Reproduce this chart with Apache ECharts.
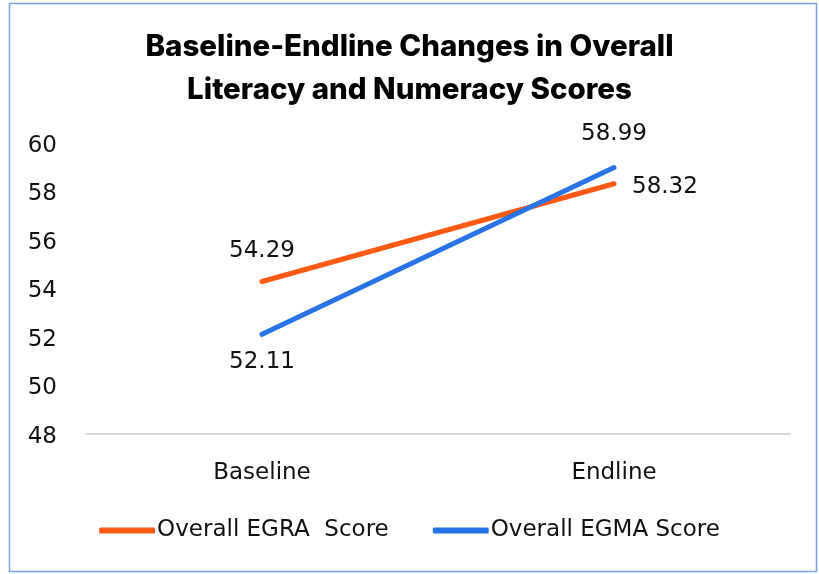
<!DOCTYPE html>
<html>
<head>
<meta charset="utf-8">
<script src="https://cdn.jsdelivr.net/npm/echarts@6/dist/echarts.min.js"></script>
<style>
  html, body { margin: 0; padding: 0; background: #fff; }
  #chart { width: 819px; height: 574px; }
</style>
</head>
<body>
<div id="chart"></div>
<script>
// Chart data
const categories = ['Baseline', 'Endline'];
const egraScores = [54.29, 58.32];
const egmaScores = [52.11, 58.99];
const seriesNames = ['Overall EGRA  Score', 'Overall EGMA Score'];
const yTicks = { min: 48, max: 60, step: 2 };

const FONT = '"DejaVu Sans", sans-serif';
const TITLE_FONT = 'Inter, "DejaVu Sans", sans-serif';
const FS = 23;

// label placement per point (style only)
const egraLabelPos = [{ position: 'top', distance: 19 }, { position: 'right', distance: 18, offset: [0, 3] }];
const egmaLabelPos = [{ position: 'bottom', distance: 16 }, { position: 'top', distance: 22 }];

function withLabels(values, placements) {
  return values.map((v, i) => ({ value: v, label: placements[i] }));
}

const chart = echarts.init(document.getElementById('chart'));

const option = {
  animation: false,
  textStyle: { fontFamily: FONT },
  title: {
    text: 'Baseline-Endline Changes in Overall\nLiteracy and Numeracy Scores',
    left: 'center',
    top: 21,
    textStyle: {
      fontFamily: TITLE_FONT,
      fontSize: 29.5,
      fontWeight: 800,
      lineHeight: 43,
      color: '#000'
    }
  },
  grid: { left: 86, right: 29, top: 143, bottom: 140, containLabel: false },
  legend: {
    bottom: 27,
    left: 'center',
    itemGap: 44,
    itemWidth: 56,
    itemHeight: 6,
    icon: 'roundRect',
    textStyle: { fontFamily: FONT, fontSize: FS, color: '#111', padding: [0, 0, 0, -3] },
    data: seriesNames
  },
  xAxis: {
    type: 'category',
    data: categories,
    boundaryGap: true,
    axisLine: { show: true, lineStyle: { color: '#d9d9d9', width: 2 } },
    axisTick: { show: false },
    axisLabel: { fontFamily: FONT, fontSize: FS, color: '#111', margin: 28 }
  },
  yAxis: {
    type: 'value',
    min: yTicks.min,
    max: yTicks.max,
    interval: yTicks.step,
    axisLine: { show: false },
    axisTick: { show: false },
    splitLine: { show: false },
    axisLabel: {
      color: '#111',
      margin: 29,
      formatter: '{v|{value}}',
      rich: { v: { fontFamily: FONT, fontSize: FS, color: '#111', padding: [6, 0, 0, 0] } }
    }
  },
  series: [
    {
      name: seriesNames[0],
      type: 'line',
      data: withLabels(egraScores, egraLabelPos),
      symbol: 'circle',
      symbolSize: 0,
      lineStyle: { color: '#FF5A14', width: 5, cap: 'round' },
      itemStyle: { color: '#FF5A14' },
      label: { show: true, fontFamily: FONT, fontSize: FS, color: '#111' }
    },
    {
      name: seriesNames[1],
      type: 'line',
      data: withLabels(egmaScores, egmaLabelPos),
      symbol: 'circle',
      symbolSize: 0,
      lineStyle: { color: '#2874E6', width: 5, cap: 'round' },
      itemStyle: { color: '#2874E6' },
      label: { show: true, fontFamily: FONT, fontSize: FS, color: '#111' }
    }
  ],
  graphic: [
    {
      type: 'rect',
      silent: true,
      shape: { x: 9.5, y: 3.5, width: 807, height: 568 },
      style: { fill: 'none', stroke: '#7aa3e8', lineWidth: 1.5 }
    }
  ]
};

chart.setOption(option);
</script>
</body>
</html>
